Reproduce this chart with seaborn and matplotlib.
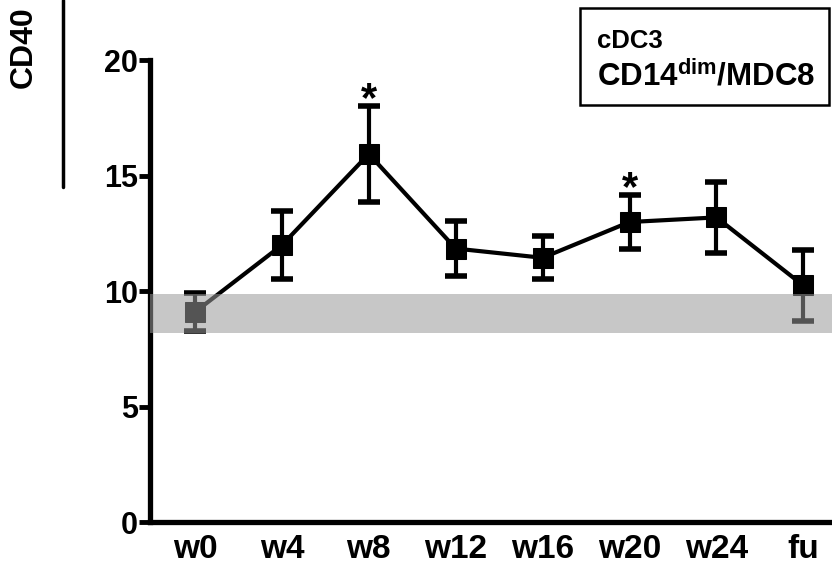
import matplotlib
matplotlib.use("Agg")
import matplotlib.pyplot as plt
import seaborn as sns
import pandas as pd
import numpy as np
from matplotlib.patches import Rectangle
from matplotlib.lines import Line2D

categories = ["w0", "w4", "w8", "w12", "w16", "w20", "w24", "fu"]
means = [9.1, 12.0, 15.95, 11.85, 11.45, 13.0, 13.2, 10.25]
errors = [0.82, 1.47, 2.07, 1.2, 0.93, 1.17, 1.54, 1.52]
significant = ["w8", "w20"]
band_low, band_high = 8.2, 9.9
y_ticks = [0, 5, 10, 15, 20]
legend_lines = ["cDC3", r"CD14$^{\mathbf{dim}}$/MDC8"]
ylabel_text = "CD40"

sns.set_theme(style="white")
plt.rcParams["font.family"] = ["Liberation Sans", "DejaVu Sans"]
plt.rcParams["font.weight"] = "bold"
plt.rcParams["mathtext.fontset"] = "custom"
plt.rcParams["mathtext.rm"] = "Liberation Sans:bold"
plt.rcParams["mathtext.bf"] = "Liberation Sans:bold"

df = pd.DataFrame({"pos": np.arange(len(categories)), "cat": categories,
                   "mean": means, "err": errors})

fig = plt.figure(figsize=(8.32, 5.76), dpi=100)
W, H = 832, 576
ax = fig.add_axes([150 / W, (H - 522) / H, (W - 150) / W, (522 - 60.5) / H])

ax.errorbar(df["pos"], df["mean"], yerr=df["err"], fmt="none", ecolor="black",
            elinewidth=3.0, capsize=8, capthick=4.0, zorder=2)
sns.lineplot(data=df, x="pos", y="mean", ax=ax, color="black", linewidth=3.0,
             marker="s", markersize=14, markeredgecolor="black",
             markerfacecolor="black", zorder=3, legend=False)

ax.axhspan(band_low, band_high, color="#9a9a9a", alpha=0.55, lw=0, zorder=4)

for c in significant:
    i = categories.index(c)
    ax.text(i, means[i] + errors[i] - 0.2, "*", ha="center", va="baseline",
            fontsize=30, fontweight="bold", color="black", zorder=5)

ax.set_xlim(-0.518, 7.33)
ax.set_ylim(0, 20)
ax.set_yticks(y_ticks)
ax.set_yticklabels([str(t) for t in y_ticks], fontsize=22, fontweight="bold")
ax.set_xticks(df["pos"])
ax.set_xticklabels(categories, fontsize=24, fontweight="bold")
ax.tick_params(axis="y", which="major", length=8, width=3.5, direction="out",
               left=True, pad=0.5, colors="black")
ax.tick_params(axis="x", length=0, pad=9, colors="black")
ax.set_xlabel("")
ax.set_ylabel("")
for s in ["top", "right"]:
    ax.spines[s].set_visible(False)
for s in ["left", "bottom"]:
    ax.spines[s].set_linewidth(3.8)
    ax.spines[s].set_color("black")
ax.grid(False)

# y label (cut off at top in original)
fig.text(24 / W, 1 - 88 / H, ylabel_text, rotation=90, ha="center", va="bottom",
         fontsize=23, fontweight="bold", color="black")
fig.add_artist(Line2D([63 / W, 63 / W], [1 - 0 / H, 1 - 187 / H],
                      transform=fig.transFigure, color="black", lw=2.5))

# legend box
fig.add_artist(Rectangle((580 / W, 1 - 105 / H), (829 - 580) / W, (105 - 8) / H,
                         transform=fig.transFigure, fill=False,
                         edgecolor="black", lw=1.8))
fig.text(597 / W, 1 - 41.5 / H, legend_lines[0], ha="left", va="center",
         fontsize=18.5, fontweight="bold", color="black")
fig.text(597 / W, 1 - 76 / H, legend_lines[1], ha="left", va="center",
         fontsize=22.5, fontweight="bold", color="black")

fig.savefig("out.png", dpi=100)
